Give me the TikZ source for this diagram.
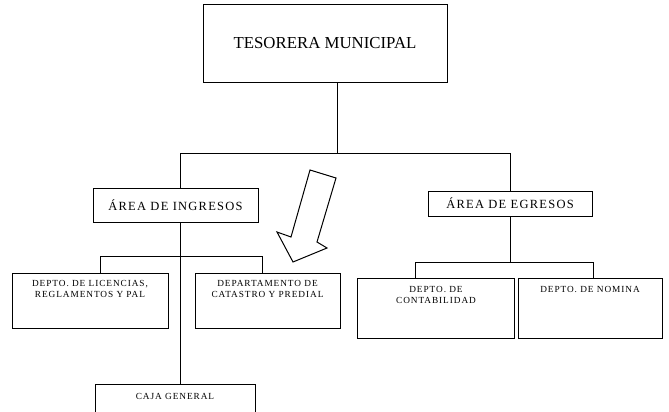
\documentclass[tikz,border=0pt]{standalone}
\usepackage{fontspec}
\setmainfont{Liberation Serif}
\newfontfamily\spacedfont[LetterSpace=10]{Liberation Serif}
\newfontfamily\areafont[LetterSpace=10]{Liberation Serif}
\usetikzlibrary{positioning}
\tikzset{
  box/.style={draw=black, line width=0.8pt, rectangle, inner sep=0pt},
  conn/.style={draw=black, line width=0.8pt},
  txt/.style={inner sep=0pt, align=center, font=\spacedfont\fontsize{9.3}{11.5}\selectfont},
  areatxt/.style={font=\areafont\fontsize{12.5}{14}\selectfont}
}
\begin{document}
\begin{tikzpicture}[x=1pt,y=-1pt]
\useasboundingbox (0,0) rectangle (669,412);
% boxes
\node[box, minimum width=244pt, minimum height=78pt, font=\fontsize{16.8}{19}\selectfont] (top) at (325,43) {TESORERA MUNICIPAL};
\node[box, areatxt, minimum width=165pt, minimum height=34pt] (ing) at (175.5,205) {ÁREA DE INGRESOS};
\node[box, areatxt, minimum width=164pt, minimum height=25pt] (egr) at (510,203.5) {ÁREA DE EGRESOS};
\node[box, minimum width=156pt, minimum height=55pt] (d1) at (90,300.5) {};
\node[txt, below=7.5pt of d1.north] (d1t) {DEPTO. DE LICENCIAS,\\REGLAMENTOS Y PAL};
\node[box, minimum width=145pt, minimum height=55pt] (d2) at (267.5,300.5) {};
\node[txt, below=7.5pt of d2.north] (d2t) {DEPARTAMENTO DE\\CATASTRO Y PREDIAL};
\node[box, minimum width=157pt, minimum height=60pt] (d3) at (436,308) {};
\node[txt, below=8.5pt of d3.north] (d3t) {DEPTO. DE\\CONTABILIDAD};
\node[box, minimum width=144pt, minimum height=60pt] (d4) at (590,308) {};
\node[txt, below=8.5pt of d4.north] (d4t) {DEPTO. DE NOMINA};
\node[box, minimum width=160pt, minimum height=40pt] (caja) at (175,404) {};
\node[txt, below=9.5pt of caja.north] (cajat) {CAJA GENERAL};
% connectors
\coordinate (bus) at (337,153);
\coordinate (busL) at (180,153);
\coordinate (busR) at (510,153);
\draw[conn] ([xshift=12pt]top.south) -- (bus);
\draw[conn] (busL) -- (busR);
\draw[conn] (busL) -- (busL |- ing.north);
\draw[conn] (busR) -- (egr.north);
\coordinate (iA) at (180,256);
\coordinate (iL) at (100,256);
\coordinate (iR) at (262,256);
\draw[conn] (ing.south -| iA) -- (caja.north -| iA);
\draw[conn] (iL) -- (iR);
\draw[conn] (iL) -- (iL |- d1.north);
\draw[conn] (iR) -- (iR |- d2.north);
\coordinate (eL) at (415,262);
\coordinate (eR) at (593,262);
\draw[conn] (egr.south) -- (egr.south |- eL);
\draw[conn] (eL) -- (eR);
\draw[conn] (eL) -- (eL |- d3.north);
\draw[conn] (eR) -- (eR |- d4.north);
% hollow arrow
\draw[line width=1pt, line join=miter] (310,170) -- (336,178) -- (317,242) -- (327,248) -- (293,262) -- (277,232) -- (291,237) -- cycle;
\end{tikzpicture}
\end{document}
